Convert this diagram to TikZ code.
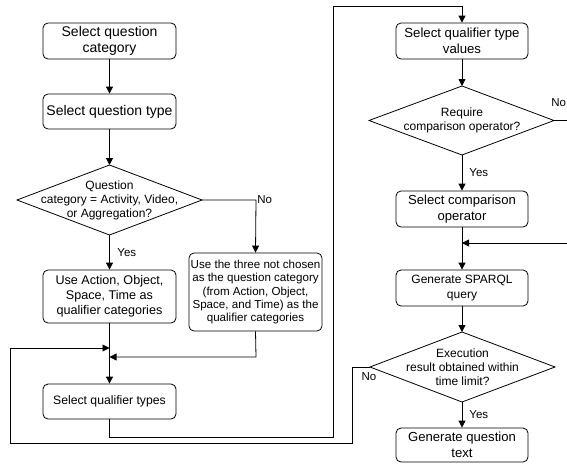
\documentclass[tikz,border=0pt]{standalone}
\usepackage{fontspec}
\setmainfont{Liberation Sans}
\usetikzlibrary{arrows.meta}
\begin{document}
\begin{tikzpicture}[x=1pt,y=-1pt,line width=0.8pt,
  box/.style={draw,rectangle,rounded corners=5pt,align=center,inner sep=0pt,minimum width=133pt,minimum height=36pt},
  diatext/.style={align=center,inner sep=0pt,font=\fontsize{12}{14}\selectfont},
  arr/.style={-{Triangle[length=7pt,width=7pt]}},
  lab/.style={font=\fontsize{11.5}{13}\selectfont,inner sep=0pt}]
\useasboundingbox (0,0) rectangle (567,463);
% left column
\node[box,font=\fontsize{14}{16}\selectfont] (q1) at (109.5,41) {Select question\\category};
\node[box,font=\fontsize{14}{16}\selectfont,minimum height=35pt] (q2) at (109.5,111.5) {Select question type};
\node[diatext] (d1) at (109.5,200) {Question\\category = Activity, Video,\\or Aggregation?};
\coordinate (d1n) at (109.5,165);
\coordinate (d1s) at (109.5,235);
\coordinate (d1w) at (17,200);
\coordinate (d1e) at (202,200);
\draw (d1n) -- (d1e) -- (d1s) -- (d1w) -- cycle;
\node[box,font=\fontsize{12.6}{15}\selectfont,minimum height=53pt] (a1) at (109.5,296.5) {Use Action, Object,\\Space, Time as\\qualifier categories};
\node[box,font=\fontsize{11.6}{13.3}\selectfont,minimum height=78pt] (a2) at (255.5,292) {Use the three not chosen\\as the question category\\(from Action, Object,\\Space, and Time) as the\\qualifier categories};
\node[box,font=\fontsize{12.2}{14}\selectfont,minimum height=35pt] (s) at (109.5,401.5) {Select qualifier types};
% right column
\node[box,font=\fontsize{13.2}{15.5}\selectfont,minimum width=132pt] (v) at (462,41) {Select qualifier type\\values};
\node[diatext] (d2) at (462,120.5) {Require\\comparison operator?};
\coordinate (d2n) at (462,86);
\coordinate (d2s) at (462,155);
\coordinate (d2w) at (369,120.5);
\coordinate (d2e) at (554,120.5);
\draw (d2n) -- (d2e) -- (d2s) -- (d2w) -- cycle;
\node[box,font=\fontsize{13.1}{15.5}\selectfont,minimum width=132pt] (c) at (462,209) {Select comparison\\operator};
\node[box,font=\fontsize{12}{15}\selectfont,minimum width=132pt] (g) at (462,288) {Generate SPARQL\\query};
\node[diatext] (d3) at (462.5,367) {Execution\\result obtained within\\time limit?};
\coordinate (d3n) at (462,332);
\coordinate (d3s) at (462,402);
\coordinate (d3w) at (370,367);
\coordinate (d3e) at (555,367);
\draw (d3n) -- (d3e) -- (d3s) -- (d3w) -- cycle;
\node[box,font=\fontsize{13.1}{15.5}\selectfont,minimum width=132pt,minimum height=34pt] (t) at (462,445) {Generate question\\text};
% coordinates
\coordinate (n1) at (256,200);
\coordinate (m1) at (256,357);
\coordinate (j1) at (109.5,357);
\coordinate (j2) at (109.5,348);
\coordinate (l1) at (352,367);
\coordinate (l2) at (352,443);
\coordinate (l3) at (10,443);
\coordinate (l4) at (10,348);
\coordinate (s1) at (109.5,437);
\coordinate (s2) at (333,437);
\coordinate (s3) at (333,6);
\coordinate (s4) at (462,6);
\coordinate (r1) at (567,120.5);
\coordinate (r2) at (567,243);
\coordinate (j3) at (462,243);
% connectors
\draw[arr] (q1) -- (q2);
\draw[arr] (q2) -- (d1n);
\draw[arr] (d1e) -- (n1) -- (a2.north);
\node[lab,anchor=west] at (257,200) {No};
\draw[arr] (d1s) -- (a1.north);
\node[lab,anchor=west] at (117,253) {Yes};
\draw[arr] (a1.south) -- (s.north);
\draw[arr] (a2.south) -- (m1) -- (j1);
\draw[arr] (d3w) -- (l1) -- (l2) -- (l3) -- (l4) -- (j2);
\node[lab] at (369,377) {No};
\draw[arr] (s.south) -- (s1) -- (s2) -- (s3) -- (s4) -- (v.north);
\draw[arr] (v) -- (d2n);
\draw[arr] (d2s) -- (c.north);
\node[lab,anchor=west] at (469,173) {Yes};
\draw (d2e) -- (r1);
\node[lab,anchor=east] at (566.5,103) {No};
\draw[arr] (c.south) -- (g.north);
\draw[arr] (r2) -- (j3);
\draw[arr] (g) -- (d3n);
\draw[arr] (d3s) -- (t.north);
\node[lab,anchor=west] at (469,415) {Yes};
\end{tikzpicture}
\end{document}
